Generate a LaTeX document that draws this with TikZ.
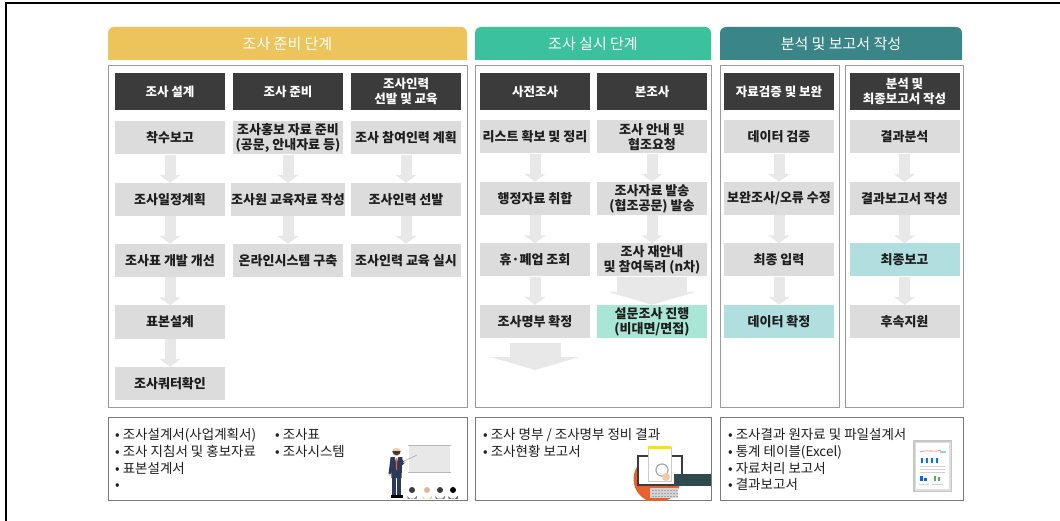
\documentclass[tikz,border=0pt]{standalone}
\usepackage{fontspec}
\setmainfont{Noto Sans CJK KR}
\usetikzlibrary{arrows.meta}

\definecolor{phaseA}{HTML}{EDC45B}
\definecolor{phaseB}{HTML}{3BC29C}
\definecolor{phaseC}{HTML}{398587}
\definecolor{darkbox}{HTML}{3B3B3B}
\definecolor{stepgray}{HTML}{DCDCDC}
\definecolor{arrowgray}{HTML}{E8E8E8}
\definecolor{hlcyan}{HTML}{B1DFE0}
\definecolor{hlgreen}{HTML}{A9E6D5}
\definecolor{frameline}{HTML}{9B9B9B}
\definecolor{boxline}{HTML}{7A7A7A}
\definecolor{txt}{HTML}{1E1E1E}
\definecolor{suit}{HTML}{2B3A5C}
\definecolor{skin}{HTML}{F1C9A5}
\definecolor{orangeC}{HTML}{E8612C}
\definecolor{armteal}{HTML}{2E4A4C}

\tikzset{
  phasetitle/.style={text=white, font=\fontsize{15}{17}\selectfont, inner sep=0pt},
  panel/.style={draw=frameline, line width=1pt, fill=white, inner sep=0pt},
  stage/.style={fill=darkbox, text=white, minimum width=110pt, minimum height=37pt,
    inner sep=0pt, align=center, font=\bfseries\fontsize{12.5}{15}\selectfont},
  stepbox/.style={fill=stepgray, text=txt, minimum width=110pt, minimum height=33pt,
    inner sep=0pt, align=center, font=\bfseries\fontsize{13}{15}\selectfont},
  flow/.style={draw=arrowgray, line width=11pt, -{Triangle[length=8pt,width=21pt]}},
  bigflow/.style={draw=arrowgray, line width=70pt, -{Triangle[length=13pt,width=88pt]}},
  bigflowB/.style={draw=arrowgray, line width=51pt, -{Triangle[length=13pt,width=88pt]}},
  outbox/.style={draw=boxline, line width=1pt, fill=white, inner sep=0pt},
  outtext/.style={text=txt, font=\fontsize{13.5}{16.6}\selectfont, align=left,
    anchor=north west, inner sep=0pt},
}

\begin{document}
\begin{tikzpicture}[x=1pt,y=-1pt]
\useasboundingbox (0,0) rectangle (1060,521);
\fill[white] (0,0) rectangle (1060,521);

% outer frame (top and left edges)
\draw[black, line width=1.4pt] (6,521) -- (6,3) -- (1060,3);

% phase headers
\fill[phaseA] (108,60) [rounded corners=6pt] -- (108,27) -- (467,27) [sharp corners] -- (467,60) -- cycle;
\fill[phaseB] (475,60) [rounded corners=6pt] -- (475,27) -- (711,27) [sharp corners] -- (711,60) -- cycle;
\fill[phaseC] (720,60) [rounded corners=6pt] -- (720,27) -- (962,27) [sharp corners] -- (962,60) -- cycle;
\node[phasetitle] (ph1) at (287.5,44) {조사 준비 단계};
\node[phasetitle] (ph2) at (593,44) {조사 실시 단계};
\node[phasetitle] (ph3) at (841,44) {분석 및 보고서 작성};

% panels
\node[panel, minimum width=359pt, minimum height=341pt] (P1) at (287.5,236.5) {};
\node[panel, minimum width=236pt, minimum height=341pt] (P2) at (593,236.5) {};
\node[panel, minimum width=119pt, minimum height=341pt] (P3) at (779.5,236.5) {};
\node[panel, minimum width=118pt, minimum height=341pt] (P4) at (904,236.5) {};

% stage headings
\node[stage] (H1) at (170,91.5) {조사 설계};
\node[stage] (H2) at (288,91.5) {조사 준비};
\node[stage] (H3) at (406,91.5) {조사인력\\선발 및 교육};
\node[stage] (H4) at (535,91.5) {사전조사};
\node[stage] (H5) at (652,91.5) {본조사};
\node[stage] (H6) at (779,91.5) {자료검증 및 보완};
\node[stage] (H7) at (904.5,91.5) {분석 및\\최종보고서 작성};

% step boxes
\node[stepbox] (A1) at (170,138) {착수보고};
\node[stepbox] (A2) at (170,199.5) {조사일정계획};
\node[stepbox] (A3) at (170,260.5) {조사표 개발 개선};
\node[stepbox] (A4) at (170,322) {표본설계};
\node[stepbox] (A5) at (170,383.5) {조사쿼터확인};

\node[stepbox] (B1) at (288,138) {조사홍보 자료 준비\\(공문, 안내자료 등)};
\node[stepbox] (B2) at (288,199.5) {조사원 교육자료 작성};
\node[stepbox] (B3) at (288,260.5) {온라인시스템 구축};

\node[stepbox] (C1) at (406,138) {조사 참여인력 계획};
\node[stepbox] (C2) at (406,199.5) {조사인력 선발};
\node[stepbox] (C3) at (406,260.5) {조사인력 교육 실시};

\node[stepbox] (D1) at (535,137) {리스트 확보 및 정리};
\node[stepbox] (D2) at (535,198.5) {행정자료 취합};
\node[stepbox] (D3) at (535,260) {휴·폐업 조회};
\node[stepbox] (D4) at (535,321.5) {조사명부 확정};

\node[stepbox] (E1) at (652,137) {조사 안내 및\\협조요청};
\node[stepbox] (E2) at (652,198.5) {조사자료 발송\\(협조공문) 발송};
\node[stepbox] (E3) at (652,260) {조사 재안내\\및 참여독려 (n차)};
\node[stepbox, fill=hlgreen] (E4) at (652,321.5) {설문조사 진행\\(비대면/면접)};

\node[stepbox] (F1) at (779,137) {데이터 검증};
\node[stepbox] (F2) at (779,198.5) {보완조사/오류 수정};
\node[stepbox] (F3) at (779,260) {최종 입력};
\node[stepbox, fill=hlcyan] (F4) at (779,321.5) {데이터 확정};

\node[stepbox] (G1) at (904.5,137) {결과분석};
\node[stepbox] (G2) at (904.5,198.5) {결과보고서 작성};
\node[stepbox, fill=hlcyan] (G3) at (904.5,260) {최종보고};
\node[stepbox] (G4) at (904.5,321.5) {후속지원};

% flow arrows
\foreach \u/\v in {A1/A2,A2/A3,A3/A4,A4/A5,B1/B2,B2/B3,C1/C2,C2/C3,
                   D1/D2,D2/D3,D3/D4,E1/E2,E2/E3,F1/F2,F2/F3,F3/F4,
                   G1/G2,G2/G3,G3/G4}
  \draw[flow] (\u) -- (\v);
\draw[bigflow] (E3) -- (E4);
\coordinate (Dend) at (535,370);
\draw[bigflowB, shorten <=5pt] (D4) -- (Dend);

% deliverable boxes
\node[outbox, minimum width=359pt, minimum height=83pt] (O1) at (287.5,458.5) {};
\node[outbox, minimum width=236pt, minimum height=83pt] (O2) at (593,458.5) {};
\node[outbox, minimum width=243pt, minimum height=83pt] (O3) at (841.5,458.5) {};

\node[outtext] (T1) at (115,428.5) {• 조사설계서(사업계획서)\\• 조사 지침서 및 홍보자료\\• 표본설계서\\•};
\node[outtext] (T2) at (275,428.5) {• 조사표\\• 조사시스템};
\node[outtext] (T3) at (483,428.5) {• 조사 명부 / 조사명부 정비 결과\\• 조사현황 보고서};
\node[outtext] (T4) at (728,428.5) {• 조사결과 원자료 및 파일설계서\\• 통계 테이블(Excel)\\• 자료처리 보고서\\• 결과보고서};

% presenter illustration
\fill[gray!18] (409,446) rectangle (450,472);
\draw[gray!55, line width=1.2pt] (408,445.5) -- (451,445.5);
\draw[gray!55, line width=1.2pt] (408,472.5) -- (451,472.5);
\draw[gray!60, line width=0.7pt] (402,462) -- (417,455);
\fill[suit] (390.5,457) -- (402.5,457) -- (401.5,478) -- (391.5,478) -- cycle;
\fill[suit] (401,458) -- (405,463) -- (402.5,465) -- (400,461) -- cycle;
\fill[skin] (404.5,462.5) circle (1.4);
\fill[suit] (391.8,477) rectangle (396.3,495);
\fill[suit] (396.9,477) rectangle (401.4,495);
\fill[white] (394.8,457) -- (398.2,457) -- (396.5,464) -- cycle;
\fill[orangeC] (395.9,458) -- (397.1,458) -- (397,470) -- (396,470) -- cycle;
\fill[skin] (396.5,452) circle (4.2);
\fill[darkbox] (392.3,451) arc (180:0:4.2) -- cycle;
\fill[suit] (390.5,458) -- (393,458) -- (391,474) -- (388.5,474) -- cycle;
\fill[skin] (389.7,475) circle (1.4);
\fill[black] (390.5,495) rectangle (396.5,497.5);
\fill[black] (396.9,495) rectangle (403,497.5);
\foreach \ax/\ac in {412/darkbox, 427/brown!55, 440/darkbox, 453/black} {
  \fill[\ac] (\ax,490) circle (3);
  \fill[\ac] (\ax-4.5,498.5) -- (\ax-4.5,496) arc (180:0:4.5 and 3) -- (\ax+4.5,498.5) -- cycle;
}

% search / review illustration
\begin{scope}
  \clip (475,417) rectangle (711,500);
  \fill[orangeC] (657,479) circle (23.5);
  \fill[white] (637,455) rectangle (683,486);
  \draw[darkbox, line width=1.6pt] (638,456) rectangle (682,485);
  \fill[white] (648,447) rectangle (671,481);
  \draw[gray!40, line width=0.5pt] (648,447) rectangle (671,481);
  \fill[yellow!85!orange] (648,446) rectangle (671,449);
  \draw[gray!70, line width=1.2pt] (662,470) circle (6);
  \fill[white, opacity=0.6] (662,470) circle (5.4);
  \fill[skin] (666,477) circle (4);
  \fill[armteal] (674,474) rectangle (711,486);
  \fill[gray!35] (650,488) rectangle (678,498);
  \foreach \kx in {652,655,...,676} \foreach \ky in {490,493,496}
    \fill[gray!70] (\kx,\ky) rectangle (\kx+1.6,\ky+1.4);
\end{scope}

% report illustration
\fill[gray!45] (913,440) rectangle (952,492);
\fill[gray!25] (914.5,441.5) rectangle (950.5,490.5);
\fill[white] (916,443) rectangle (949,489);
\draw[red!60, line width=0.6pt] (920,452) .. controls (928,449) and (934,453) .. (941,450);
\fill[cyan!50] (940,451) rectangle (946,453);
\foreach \bx in {921,926,931,936}
  \fill[blue!55!cyan] (\bx,458) rectangle (\bx+2,463);
\foreach \ly in {466,469,472}
  \draw[gray!35, line width=0.5pt] (920,\ly) -- (945,\ly);
\fill[blue!60!cyan] (920,476) rectangle (923,481);
\fill[blue!60!cyan] (924,478) rectangle (927,481);
\fill[green!60!black!70] (934,476) rectangle (936,481);
\fill[green!60!black!70] (938,477) rectangle (940,481);
\draw[gray!35, line width=0.5pt] (919,484) -- (929,484);
\draw[gray!35, line width=0.5pt] (932,484) -- (943,484);
\end{tikzpicture}
\end{document}
